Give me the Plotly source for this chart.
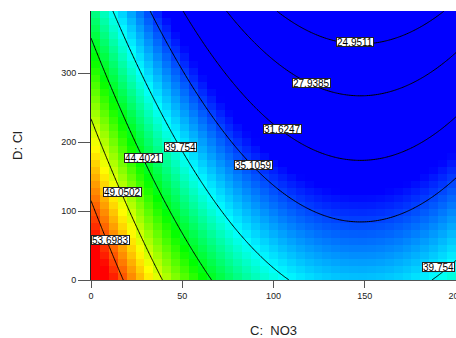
import numpy as np
import plotly.graph_objects as go

# ---- values ----
x_ticks = [0, 50, 100, 150, 200]
y_ticks = [0, 100, 200, 300]
x_range = [0, 200]
y_range = [0, 390]

# quadratic response-surface terms, estimated from where the contours cross the edges
ridge_value = 38.362      # response at the valley (x = ridge_x) on y = 0
ridge_x = 147.65
x_quad = 0.000908
y_lin = -0.0385
y_quad = -0.000002

contour_levels = [24.9511, 27.9385, 31.6247, 35.1059, 39.754, 44.4021, 49.0502, 53.6983]

label_text = ["24.9511", "27.9385", "31.6247", "35.1059", "39.754", "44.4021",
              "49.0502", "53.6983", "39.754"]
label_x = [144.9, 120.9, 104.7, 88.8, 49.0, 28.5, 17.0, 10.9, 190.4]
label_y = [345, 286, 219, 167, 193, 177.5, 127, 58.7, 19]

n_cols = 41
n_rows = 38
color_stops = [(33.5, "rgb(0,0,255)"), (39.75, "rgb(0,255,255)"), (45.0, "rgb(0,255,0)"),
               (50.0, "rgb(255,255,0)"), (55.5, "rgb(255,0,0)")]


def response(x, y):
    return ridge_value + x_quad * (x - ridge_x) ** 2 + y_lin * y + y_quad * y ** 2


# coarse colour grid (cell centres)
xc = (np.arange(n_cols) + 0.5) * (x_range[1] - x_range[0]) / n_cols + x_range[0]
yc = (np.arange(n_rows) + 0.5) * (y_range[1] - y_range[0]) / n_rows + y_range[0]
XC, YC = np.meshgrid(xc, yc)
zc = response(XC, YC)

# fine grid for smooth contour lines
xf = np.linspace(x_range[0], x_range[1], 201)
yf = np.linspace(y_range[0], y_range[1], 201)
XF, YF = np.meshgrid(xf, yf)
zf = response(XF, YF)

zmin = color_stops[0][0]
zmax = color_stops[-1][0]
colorscale = [[(v - zmin) / (zmax - zmin), c] for v, c in color_stops]

fig = go.Figure()
fig.add_trace(go.Heatmap(x=xc, y=yc, z=zc, zmin=zmin, zmax=zmax, colorscale=colorscale,
                         showscale=False, zsmooth=False, hoverinfo="skip"))
for lvl in contour_levels:
    fig.add_trace(go.Contour(x=xf, y=yf, z=zf, showscale=False, hoverinfo="skip",
                             contours=dict(start=lvl, end=lvl, size=1, coloring="none"),
                             line=dict(color="black", width=1)))

for t, lx, ly in zip(label_text, label_x, label_y):
    fig.add_annotation(x=lx, y=ly, xref="x", yref="y", text=t, showarrow=False,
                       bgcolor="white", bordercolor="#222", borderwidth=1, borderpad=0,
                       height=8,
                       font=dict(family="Liberation Sans, Arial", size=10, color="black"))

fig.update_layout(
    width=456, height=338,
    margin=dict(l=91, r=0, t=11, b=58, autoexpand=False),
    paper_bgcolor="white", plot_bgcolor="white",
    showlegend=False,
    font=dict(family="Liberation Sans, Arial", color="#222"),
)
fig.update_xaxes(range=x_range, tickvals=x_ticks, ticks="outside", ticklen=7, tickcolor="#555",
                 showline=True, linecolor="#555", linewidth=1, showgrid=False, zeroline=False,
                 tickfont=dict(size=9), ticklabeloverflow="allow", automargin=False,
                 title=dict(text="C:\u00a0\u00a0NO3", font=dict(size=13), standoff=26))
fig.update_yaxes(range=y_range, tickvals=y_ticks, ticks="outside", ticklen=12, tickcolor="#555",
                 showline=True, linecolor="#222", linewidth=1, showgrid=False, zeroline=False,
                 tickfont=dict(size=9), automargin=False,
                 title=dict(text="D: Cl", font=dict(size=13), standoff=35))

fig.write_html("out.html", config={"displayModeBar": False},
               post_script="document.body.style.margin='0';document.body.style.overflow='hidden';")
